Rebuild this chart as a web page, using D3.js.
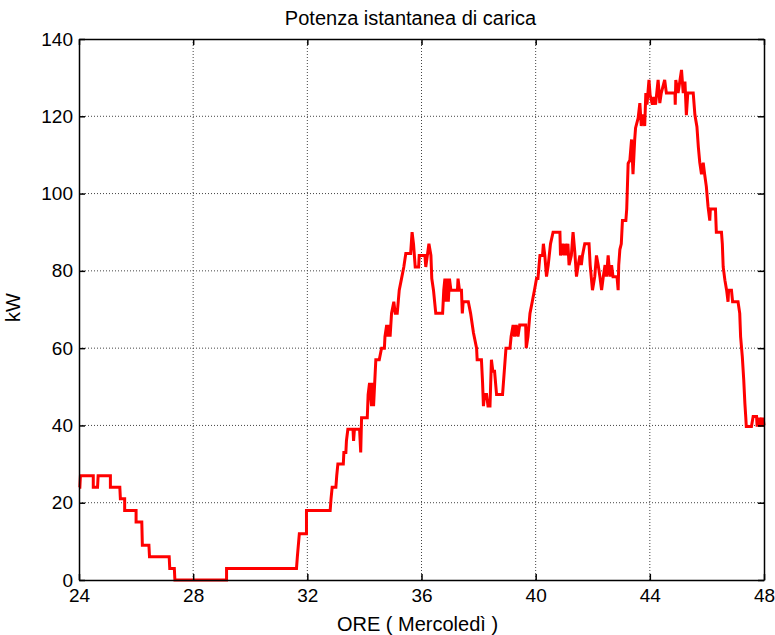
<!DOCTYPE html>
<html>
<head>
<meta charset="utf-8">
<script src="https://cdn.jsdelivr.net/npm/d3@7"></script>
<style>
  html, body { margin: 0; padding: 0; background: #fff; }
  svg { display: block; font-family: "Liberation Sans", Arial, sans-serif; }
</style>
</head>
<body>
<svg id="chart" width="775" height="635"></svg>
<script>
// ---- Data ----
const titleText = "Potenza istantanea di carica";
const xLabelText = "ORE ( Mercoledì )";
const yLabelText = "kW";
const xTicks = [24, 28, 32, 36, 40, 44, 48];
const yTicks = [0, 20, 40, 60, 80, 100, 120, 140];

// time in hours
const hours = [
  24.00, 24.03, 24.05, 24.50, 24.50, 24.65, 24.67, 25.10, 25.10, 25.43,
  25.45, 25.60, 25.60, 26.00, 26.00, 26.20, 26.22, 26.45, 26.47, 27.16,
  27.18, 27.34, 27.36, 29.17, 29.17, 31.62, 31.65, 31.72, 31.97, 31.97,
  32.80, 32.83, 32.87, 33.00, 33.03, 33.07, 33.26, 33.28, 33.35, 33.37,
  33.42, 33.60, 33.62, 33.65, 33.83, 33.87, 33.90, 34.10, 34.13, 34.18,
  34.25, 34.28, 34.32, 34.40, 34.52, 34.60, 34.70, 34.72, 34.78, 34.82,
  34.86, 34.90, 34.95, 35.03, 35.08, 35.15, 35.22, 35.30, 35.38, 35.45,
  35.62, 35.67, 35.72, 35.78, 35.90, 35.92, 36.12, 36.15, 36.26, 36.33,
  36.36, 36.42, 36.50, 36.74, 36.78, 36.82, 36.86, 36.90, 36.94, 36.98,
  37.03, 37.26, 37.28, 37.33, 37.40, 37.43, 37.46, 37.64, 37.72, 37.82,
  37.93, 37.95, 38.10, 38.14, 38.17, 38.21, 38.28, 38.33, 38.40, 38.45,
  38.50, 38.56, 38.63, 38.84, 38.90, 38.96, 39.10, 39.14, 39.21, 39.26,
  39.32, 39.38, 39.44, 39.65, 39.67, 39.73, 39.80, 39.88, 39.97, 40.03,
  40.08, 40.12, 40.15, 40.24, 40.27, 40.32, 40.38, 40.44, 40.52, 40.61,
  40.85, 40.87, 40.94, 40.99, 41.03, 41.08, 41.13, 41.17, 41.25, 41.31,
  41.37, 41.43, 41.49, 41.55, 41.60, 41.64, 41.72, 41.87, 41.91, 41.99,
  42.07, 42.13, 42.19, 42.25, 42.31, 42.37, 42.43, 42.48, 42.54, 42.60,
  42.66, 42.71, 42.85, 42.89, 42.91, 42.95, 43.00, 43.04, 43.16, 43.19,
  43.24, 43.30, 43.36, 43.41, 43.43, 43.47, 43.50, 43.59, 43.65, 43.70,
  43.76, 43.82, 43.86, 43.90, 43.97, 44.01, 44.09, 44.14, 44.20, 44.29,
  44.35, 44.40, 44.52, 44.58, 44.88, 44.89, 44.91, 44.99, 45.05, 45.11,
  45.17, 45.23, 45.28, 45.33, 45.52, 45.58, 45.65, 45.70, 45.75, 45.81,
  45.87, 45.92, 45.98, 46.04, 46.10, 46.12, 46.30, 46.33, 46.51, 46.54,
  46.57, 46.63, 46.69, 46.74, 46.76, 46.86, 46.90, 47.09, 47.15, 47.18,
  47.24, 47.29, 47.33, 47.36, 47.38, 47.56, 47.62, 47.74, 47.76, 47.80,
  47.84, 47.91, 47.94, 47.97, 48.00
];
// charging power in kW
const kw = [
  24, 24, 27, 27, 24, 24, 27, 27, 24, 24,
  21, 21, 18, 18, 15, 15, 9, 9, 6, 6,
  3, 3, 0, 0, 3, 3, 6, 12, 12, 18,
  18, 21, 24, 24, 27, 30, 30, 33, 33, 36,
  39, 39, 36, 39, 39, 33, 42, 42, 48, 51,
  45, 51, 45, 57, 57, 60, 60, 63, 66, 63,
  66, 63, 69, 72, 69, 69, 75, 78, 81, 84.5,
  84.5, 90, 87, 81, 81, 84, 84, 81, 87, 84,
  78, 75, 69, 69, 75, 78, 72, 78, 72, 78,
  75, 75, 78, 75, 75, 69, 72, 72, 69, 64,
  60, 57, 57, 51, 45, 48, 48, 45, 45, 57,
  54, 54, 48, 48, 54, 60, 60, 63, 66, 63,
  66, 63, 66, 66, 60, 63, 69, 72, 75.5, 78,
  78, 81.5, 84, 84, 87, 84, 78.5, 81.5, 87, 90,
  90, 84, 87, 84, 87, 84, 87, 81.5, 84, 90,
  85, 78.5, 81.5, 84, 81.5, 84, 87, 87, 81.5, 75,
  78.5, 84, 81.5, 78.5, 75, 78.5, 81.5, 78.5, 84, 78.5,
  81.5, 78.5, 78.5, 75, 81.5, 85.5, 87, 93, 93, 96,
  107.8, 108.6, 114, 105, 108, 114, 117, 119.5, 123.4, 117.5,
  120.5, 117.5, 126, 123, 129.4, 125.5, 123, 125, 123, 129.4,
  123.4, 126, 129.4, 126, 126, 123, 129.4, 126, 129, 132,
  126, 129, 120.3, 126, 126, 120.3, 117.3, 112, 108, 105,
  108, 105, 101.8, 96.6, 93, 96, 96, 90, 90, 87,
  81, 77.6, 75, 72, 75, 75, 72, 72, 69, 63,
  57.8, 51.8, 45.7, 42.3, 39.7, 39.7, 42.3, 42.3, 39.7, 42,
  39.7, 42, 39.7, 42, 40
];

// ---- Layout ----
const W = 775, H = 635;
const margin = { top: 39, right: 11, bottom: 55, left: 79 };
const iw = W - margin.left - margin.right;
const ih = H - margin.top - margin.bottom;

const svg = d3.select("#chart");
const g = svg.append("g").attr("transform", `translate(${margin.left},${margin.top})`);

const x = d3.scaleLinear().domain([24, 48]).range([0, iw]);
const y = d3.scaleLinear().domain([0, 140]).range([ih, 0]);

// background
g.append("rect").attr("width", iw).attr("height", ih).attr("fill", "#fff");

// grid (dotted)
const grid = g.append("g").attr("class", "grid");
grid.selectAll("line.vx").data(xTicks.slice(1, -1)).enter().append("line")
  .attr("x1", d => x(d)).attr("x2", d => x(d))
  .attr("y1", 0).attr("y2", ih)
  .attr("stroke", "#444").attr("stroke-width", 1).attr("stroke-dasharray", "1,2");
grid.selectAll("line.hy").data(yTicks.slice(1, -1)).enter().append("line")
  .attr("x1", 0).attr("x2", iw)
  .attr("y1", d => y(d)).attr("y2", d => y(d))
  .attr("stroke", "#444").attr("stroke-width", 1).attr("stroke-dasharray", "1,2");

// data line
const pts = hours.map((h, i) => [h, kw[i]]);
const line = d3.line().x(d => x(d[0])).y(d => y(d[1]));
g.append("path").datum(pts)
  .attr("d", line)
  .attr("fill", "none")
  .attr("stroke", "#ff0000")
  .attr("stroke-width", 3)
  .attr("stroke-linejoin", "miter")
  .attr("stroke-miterlimit", 2);

// axes with inward ticks
const tickFs = "19px";
const labelFs = "20px";
function styleAxis(sel) {
  sel.select(".domain").attr("stroke", "#000").attr("stroke-width", 1.5);
  sel.selectAll(".tick line").attr("stroke", "#000").attr("stroke-width", 1.5);
  sel.selectAll(".tick text").attr("fill", "#000").style("font-size", tickFs)
    .style("font-family", '"Liberation Sans", Arial, sans-serif');
}
const xAxis = g.append("g").attr("transform", `translate(0,${ih})`)
  .call(d3.axisBottom(x).tickValues(xTicks).tickSize(-6).tickSizeOuter(0).tickPadding(9).tickFormat(d3.format("d")));
styleAxis(xAxis);
const yAxis = g.append("g")
  .call(d3.axisLeft(y).tickValues(yTicks).tickSize(-6).tickSizeOuter(0).tickPadding(6).tickFormat(d3.format("d")));
styleAxis(yAxis);
const xTop = g.append("g")
  .call(d3.axisTop(x).tickValues(xTicks).tickSize(-6).tickSizeOuter(0).tickFormat(""));
styleAxis(xTop);
const yRight = g.append("g").attr("transform", `translate(${iw},0)`)
  .call(d3.axisRight(y).tickValues(yTicks).tickSize(-6).tickSizeOuter(0).tickFormat(""));
styleAxis(yRight);

// title & labels
svg.append("text").attr("x", margin.left + iw / 2 - 11).attr("y", 25)
  .attr("text-anchor", "middle").style("font-size", labelFs).attr("fill", "#000")
  .text(titleText);
svg.append("text").attr("x", margin.left + iw / 2 - 4).attr("y", 631)
  .attr("text-anchor", "middle").style("font-size", labelFs).attr("fill", "#000")
  .text(xLabelText);
svg.append("text")
  .attr("transform", `translate(20,${margin.top + ih / 2 - 2}) rotate(-90)`)
  .attr("text-anchor", "middle").style("font-size", labelFs).attr("fill", "#000")
  .text(yLabelText);
</script>
</body>
</html>
